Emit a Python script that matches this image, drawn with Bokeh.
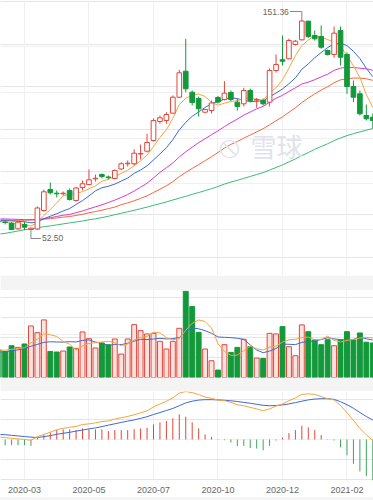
from bokeh.plotting import figure
from bokeh.layouts import column
from bokeh.models import Range1d, FixedTicker, Grid, Label, ColumnDataSource, Div
from bokeh.embed import file_html
from bokeh.resources import INLINE

# ---------------- data (weekly candles, index 0 = first week of 2020-03) ----------------
idx = list(range(-4, 55))
tick_idx = [0, 10, 20, 30, 40, 50]
tick_labels = ["2020-03", "2020-05", "2020-07", "2020-10", "2020-12", "2021-02"]

opens = [56.72, 56.48, 55.92, 53.29, 55.31, 52.95, 53.2, 61.88, 71.75, 70.01, 69.73, 71.28, 66.58, 72.69,
         74.1, 76.77, 78.79, 77.62, 76.92, 81.38, 83.82, 83.82, 88.42, 89.74, 94.76, 103.69, 104.16, 107.59,
         115.1, 127.31, 117.45, 114.49, 108.05, 108.85, 114.96, 114.02, 117.31, 112.75, 112.0, 118.25, 113.74,
         113.55, 112.75, 127.64, 132.67, 133.13, 139.85, 142.06, 150.8, 144.08, 143.61, 137.04, 135.16, 146.43,
         135.16, 120.13, 116.7, 106.5, 105.71]
highs = [57.66, 57.42, 56.48, 56.95, 56.72, 53.85, 63.76, 71.75, 75.03, 71.28, 70.81, 72.22, 72.92, 75.97,
         81.14, 78.79, 79.26, 78.32, 81.14, 84.57, 85.37, 90.68, 92.88, 97.91, 105.1, 106.5, 108.05, 115.9,
         127.97, 142.53, 118.25, 115.43, 109.56, 113.55, 115.66, 122.62, 118.25, 114.35, 119.52, 119.19, 114.82,
         114.49, 128.58, 135.16, 144.08, 142.67, 141.97, 151.36, 151.0, 146.43, 148.78, 137.5, 148.31, 148.31,
         136.1, 122.94, 118.25, 111.67, 107.44]
lows = [55.78, 55.31, 52.7, 52.96, 52.7, 52.5, 52.72, 61.41, 69.4, 67.99, 68.93, 66.58, 66.11, 71.28,
        73.86, 75.5, 76.92, 76.45, 76.45, 80.91, 82.55, 83.02, 85.84, 89.13, 94.29, 102.61, 102.61, 107.3,
        114.73, 117.45, 111.2, 106.03, 107.68, 107.44, 112.14, 113.55, 113.31, 108.85, 110.73, 112.61, 110.12,
        111.2, 110.73, 126.7, 129.99, 132.81, 139.38, 141.73, 142.9, 141.73, 137.83, 134.69, 133.61, 129.99,
        116.7, 112.75, 106.5, 104.16, 100.4]
closes = [56.48, 56.25, 52.95, 56.39, 54.04, 53.6, 63.06, 70.67, 70.2, 69.73, 70.01, 67.05, 72.45, 74.43,
          76.3, 77.05, 77.85, 77.38, 80.67, 83.82, 84.1, 88.8, 88.66, 93.82, 104.16, 105.42, 106.98, 115.1,
          126.56, 119.05, 112.61, 109.65, 109.32, 112.38, 112.85, 116.98, 114.02, 110.73, 118.25, 113.55, 114.02,
          112.0, 127.64, 130.46, 132.01, 141.73, 141.4, 150.9, 143.6, 142.53, 138.58, 135.16, 145.16, 133.89,
          120.13, 115.1, 107.3, 104.96, 104.16]

ma5 = [56.6, 56.5, 55.8, 55.9, 55.22, 54.65, 56.01, 59.55, 62.31, 65.45, 68.73, 69.53, 69.89, 70.73, 72.05,
       73.46, 75.62, 76.6, 77.85, 79.35, 80.76, 82.95, 85.21, 87.84, 91.91, 96.17, 99.81, 105.1, 111.64, 114.62,
       116.06, 116.59, 115.44, 112.6, 111.36, 112.24, 113.11, 113.39, 114.57, 114.71, 114.11, 113.71, 117.09,
       119.53, 123.23, 128.77, 134.65, 139.3, 141.93, 144.03, 143.4, 142.15, 141.01, 139.06, 134.58, 129.89,
       124.32, 116.28, 110.33]
ma10 = [57.2, 57.1, 57.0, 56.8, 56.6, 56.1, 56.5, 58.0, 59.2, 60.34, 61.69, 62.77, 64.72, 66.52, 68.75, 71.1,
        72.58, 73.25, 74.29, 75.7, 77.11, 79.29, 80.91, 82.85, 85.63, 88.47, 91.38, 95.16, 99.74, 103.27, 106.12,
        108.2, 110.27, 112.12, 112.99, 114.15, 114.85, 114.42, 113.59, 113.04, 113.18, 113.41, 115.24, 117.05,
        118.97, 121.44, 124.18, 128.2, 130.73, 133.63, 136.09, 138.4, 140.16, 140.5, 139.31, 136.65, 133.24,
        128.65, 124.7]
ma20 = [58.0, 57.9, 57.8, 57.7, 57.6, 57.6, 57.7, 58.0, 58.5, 59.07, 59.65, 60.04, 60.86, 61.66, 62.68, 63.6,
        64.54, 65.63, 66.75, 68.02, 69.4, 71.03, 72.82, 74.69, 77.19, 79.79, 81.98, 84.21, 87.02, 89.49, 91.62,
        93.75, 95.59, 97.49, 99.31, 101.31, 103.12, 104.79, 106.67, 108.16, 109.65, 110.81, 112.76, 114.59,
        115.98, 117.8, 119.52, 121.31, 122.16, 123.34, 124.64, 125.91, 127.7, 128.78, 129.14, 129.05, 128.71,
        128.43, 127.72]
ma30 = [57.5, 57.4, 57.3, 57.3, 57.3, 57.4, 57.5, 57.8, 58.1, 58.38, 58.77, 59.03, 59.57, 60.11, 60.79, 61.4,
        62.03, 62.75, 63.5, 64.61, 65.47, 66.45, 67.55, 68.73, 70.33, 71.89, 73.49, 75.47, 77.75, 79.77, 81.64,
        83.42, 85.3, 87.17, 89.12, 91.24, 92.94, 94.28, 95.88, 97.34, 98.8, 100.3, 102.14, 104.01, 105.86, 108.02,
        110.14, 112.59, 114.69, 116.65, 118.47, 120.01, 121.89, 123.23, 123.76, 124.08, 124.09, 123.76, 123.01]
ma60 = [50.8, 51.13, 51.69, 52.26, 52.82, 53.33, 53.76, 54.23, 54.65, 55.12, 55.59, 56.06, 56.48, 56.95, 57.52,
        57.99, 58.55, 59.16, 59.91, 60.6, 61.3, 61.98, 62.73, 63.48, 64.32, 65.08, 65.9, 66.82, 67.7, 68.54,
        69.47, 70.31, 71.2, 72.14, 73.16, 74.27, 75.22, 76.04, 76.99, 77.86, 78.79, 79.67, 80.86, 82.06, 83.33,
        84.71, 86.09, 87.67, 89.1, 90.63, 91.97, 93.23, 94.72, 95.98, 97.05, 97.99, 98.79, 99.62, 100.38]

volume = [13.85, 13.0, 15.85, 15.0, 16.7, 25.7, 22.35, 28.7, 13.0, 12.7, 13.2, 15.2, 14.5, 22.7, 19.35, 14.7,
          17.2, 16.35, 19.2, 11.7, 19.2, 26.35, 23.35, 21.7, 22.0, 18.0, 14.2, 18.0, 24.5, 43.0, 35.35, 22.5, 14.2,
          8.35, 3.7, 16.35, 12.5, 15.0, 19.0, 15.35, 9.7, 9.5, 22.0, 21.7, 25.35, 15.35, 10.85, 26.2, 22.85, 18.7,
          16.35, 18.85, 15.85, 18.7, 22.85, 18.7, 22.2, 17.6, 17.2]
vol_ma5 = [13.5, 13.6, 14.0, 14.4, 14.88, 17.25, 19.12, 21.69, 21.29, 20.49, 17.99, 16.56, 13.72, 15.66, 16.99,
           17.29, 17.69, 18.06, 17.36, 15.83, 16.73, 18.56, 19.96, 20.46, 22.52, 22.28, 19.85, 18.78, 19.34, 23.54,
           27.01, 28.67, 27.91, 24.68, 16.82, 13.02, 11.02, 11.18, 13.31, 15.64, 14.31, 13.71, 15.11, 15.65, 17.65,
           18.78, 19.05, 19.89, 20.12, 18.79, 18.99, 20.59, 18.52, 17.69, 18.52, 18.99, 19.66, 20.01, 19.71]
vol_ma10 = [12.6, 12.9, 13.3, 13.8, 14.4, 15.6, 16.5, 17.5, 17.8, 17.69, 17.62, 17.84, 17.71, 18.48, 18.74,
            17.64, 17.13, 15.89, 16.51, 16.41, 17.01, 18.13, 19.01, 18.91, 19.18, 19.51, 19.21, 19.37, 19.9, 23.03,
            24.65, 24.26, 23.35, 22.01, 20.18, 20.02, 19.85, 19.55, 19.0, 16.23, 13.67, 12.37, 13.15, 14.48, 16.65,
            16.55, 16.38, 17.5, 17.89, 18.22, 18.89, 19.82, 19.21, 18.91, 18.66, 18.99, 20.13, 19.27, 18.7]

dif = [0.65, 0.46, 0.31, 0.16, 0.01, -0.21, 0.69, 1.24, 1.83, 2.45, 2.78, 3.03, 3.25, 3.71, 3.88, 4.13, 4.45,
       4.59, 5.07, 5.40, 5.72, 6.14, 6.63, 7.10, 8.08, 8.81, 9.49, 10.33, 11.51, 11.91, 11.63, 11.16, 10.51,
       10.21, 9.78, 9.64, 9.22, 8.63, 8.40, 7.95, 7.60, 7.14, 7.58, 8.30, 8.83, 9.62, 10.32, 11.20, 11.33, 11.20,
       10.67, 10.09, 9.82, 8.41, 6.66, 4.75, 2.73, 1.15, -0.26]
dea = [1.28, 1.18, 1.03, 0.88, 0.73, 0.58, 0.50, 0.70, 0.95, 1.28, 1.53, 1.78, 2.08, 2.33, 2.63, 2.88, 3.20,
       3.55, 3.90, 4.23, 4.55, 4.85, 5.25, 5.65, 6.20, 6.68, 7.20, 7.70, 8.38, 9.08, 9.50, 9.78, 9.88, 9.88, 9.83,
       9.73, 9.60, 9.43, 9.20, 9.00, 8.73, 8.48, 8.38, 8.43, 8.58, 8.83, 9.15, 9.50, 9.83, 10.03, 10.13, 10.13,
       9.95, 9.38, 8.63, 7.75, 6.70, 5.70, 4.83]
macd_hist = [-1.25, -1.43, -1.43, -1.43, -1.43, -1.58, 0.38, 1.08, 1.75, 2.33, 2.5, 2.5, 2.33, 2.75, 2.5, 2.5,
             2.5, 2.08, 2.33, 2.33, 2.33, 2.58, 2.75, 2.9, 3.75, 4.25, 4.58, 5.25, 6.25, 5.65, 4.25, 2.75, 1.25,
             0.65, -0.1, -0.18, -0.75, -1.6, -1.6, -2.1, -2.25, -2.68, -1.6, -0.25, 0.5, 1.58, 2.33, 3.4, 3.0,
             2.33, 1.08, -0.08, -0.25, -1.93, -3.93, -6.0, -7.93, -9.1, -10.18]

# ---------------- layout / style ----------------
W = 373
MAIN_H, BAND1, VOL_H, BAND2, MACD_H, AXIS_H, FOOT = 275, 15, 87, 14, 89, 17, 3

RED = "#e2473d"
GREEN = "#13993b"
HIST_GREEN = "#3aa85a"
VOL_UP_FILL = "#fbe3e0"
GRID = "#f0f0f0"
BAND_COLOR = "#f4f4f4"
C_MA5, C_MA10, C_MA20, C_MA30, C_MA60 = "#f7a43a", "#3c69d4", "#d93ad3", "#f2683e", "#3dba78"
FONT = "Liberation Sans"

PRICE_MIN, PRICE_MAX = 31.35, 160.52
VOL_MAX = 43.35
x_range = Range1d(-3.72, 54.11)

up = [c >= o for o, c in zip(opens, closes)]
src = ColumnDataSource(dict(
    idx=idx, high=highs, low=lows,
    top=[max(max(o, c), min(o, c) + 0.2) for o, c in zip(opens, closes)],
    bottom=[min(o, c) for o, c in zip(opens, closes)],
    color=[RED if u else GREEN for u in up],
    fill=["white" if u else GREEN for u in up],
    vfill=[VOL_UP_FILL if u else GREEN for u in up],
    vol=volume,
))
hsrc = ColumnDataSource(dict(idx=idx, h=macd_hist,
                             color=[RED if h >= 0 else HIST_GREEN for h in macd_hist]))


def make_fig(h, y_range, border_bottom, border_color, with_axis=False):
    p = figure(width=W, height=h, x_range=x_range, y_range=y_range,
               output_backend="svg", toolbar_location=None,
               x_axis_location="below" if with_axis else None, y_axis_location=None,
               min_border=0, min_border_left=0, min_border_right=0, min_border_top=0,
               min_border_bottom=border_bottom, border_fill_color=border_color,
               background_fill_color="white", outline_line_color=None)
    if with_axis:
        p.xgrid.ticker = FixedTicker(ticks=tick_idx)
        p.xgrid.grid_line_color = GRID
    else:
        p.add_layout(Grid(dimension=0, ticker=FixedTicker(ticks=tick_idx), grid_line_color=GRID))
    return p


# ---- main candle panel ----
main = make_fig(MAIN_H + BAND1, Range1d(PRICE_MIN, PRICE_MAX), BAND1, BAND_COLOR)
step = (PRICE_MAX - PRICE_MIN) / 6.0
main.add_layout(Grid(dimension=1, ticker=FixedTicker(ticks=[PRICE_MIN + step * i for i in range(1, 6)]),
                     grid_line_color=GRID))

main.add_layout(Label(x=229, y=MAIN_H - 145, x_units="screen", y_units="screen", text="⦸",
                      text_font="DejaVu Sans", text_font_size="32px", text_color="#dfe3eb",
                      text_align="center", text_baseline="middle"))
main.add_layout(Label(x=276, y=MAIN_H - 145, x_units="screen", y_units="screen", text="雪球",
                      text_font="Noto Sans CJK SC", text_font_size="26px", text_color="#dfe3eb",
                      text_align="center", text_baseline="middle"))

for vals, col in [(ma60, C_MA60), (ma30, C_MA30), (ma20, C_MA20), (ma10, C_MA10), (ma5, C_MA5)]:
    main.line(idx, vals, line_color=col, line_width=1)

main.segment(x0="idx", y0="high", x1="idx", y1="low", line_color="color", line_width=1, source=src)
main.vbar(x="idx", width=0.72, top="top", bottom="bottom", fill_color="fill", line_color="color",
          line_width=1, source=src)

# high / low markers
ppx = (PRICE_MAX - PRICE_MIN) / MAIN_H
upx = (x_range.end - x_range.start) / W
hi_i = highs.index(max(highs))
lo_i = lows.index(min(lows))
hx, hv = idx[hi_i], highs[hi_i]
lx, lv = idx[lo_i], lows[lo_i]
main.line([hx, hx, hx - 12 * upx], [hv, hv + 8.5 * ppx, hv + 8.5 * ppx],
          line_color="#888888", line_width=1)
main.line([lx, lx, lx + 10 * upx], [lv, lv - 8 * ppx, lv - 8 * ppx],
          line_color="#888888", line_width=1)
main.add_layout(Label(x=hx, y=hv, x_offset=-13, y_offset=8.5, text=f"{hv:.2f}",
                      text_align="right", text_baseline="middle", text_font=FONT,
                      text_font_size="8.5px", text_color="#666666"))
main.add_layout(Label(x=lx, y=lv, x_offset=11, y_offset=-8, text=f"{lv:.2f}",
                      text_align="left", text_baseline="middle", text_font=FONT,
                      text_font_size="8.5px", text_color="#666666"))

# ---- volume panel ----
vol = make_fig(VOL_H + BAND2, Range1d(0, VOL_MAX), BAND2, BAND_COLOR)
vol.add_layout(Grid(dimension=1, ticker=FixedTicker(ticks=[VOL_MAX / 2.0]), grid_line_color=GRID))
vol.vbar(x="idx", width=0.76, top="vol", bottom=0, fill_color="vfill", line_color="color",
         line_width=1, source=src)
vol.line(idx, vol_ma10, line_color=C_MA10, line_width=1)
vol.line(idx, vol_ma5, line_color=C_MA5, line_width=1)

# ---- MACD panel ----
allm = dif + dea + macd_hist
macd = make_fig(MACD_H + AXIS_H, Range1d(min(allm), max(allm)), AXIS_H, "white", with_axis=True)
macd.add_layout(Grid(dimension=1, ticker=FixedTicker(ticks=[0]), grid_line_color=GRID))
macd.segment(x0="idx", y0=0, x1="idx", y1="h", line_color="color", line_width=1, source=hsrc)
macd.line(idx, dea, line_color=C_MA10, line_width=1)
macd.line(idx, dif, line_color=C_MA5, line_width=1)

ax = macd.xaxis[0]
ax.ticker = FixedTicker(ticks=tick_idx)
ax.major_label_overrides = {t: lab for t, lab in zip(tick_idx, tick_labels)}
ax.axis_line_color = None
ax.major_tick_line_color = None
ax.minor_tick_line_color = None
ax.major_label_standoff = 0
ax.major_label_text_font = FONT
ax.major_label_text_font_size = "9px"
ax.major_label_text_color = "#666666"

foot = Div(width=W, height=FOOT, margin=(0, 0, 0, 0), styles={"background-color": BAND_COLOR})

layout = column(main, vol, macd, foot, spacing=0)

open("out.html", "w").write(file_html(layout, INLINE))
